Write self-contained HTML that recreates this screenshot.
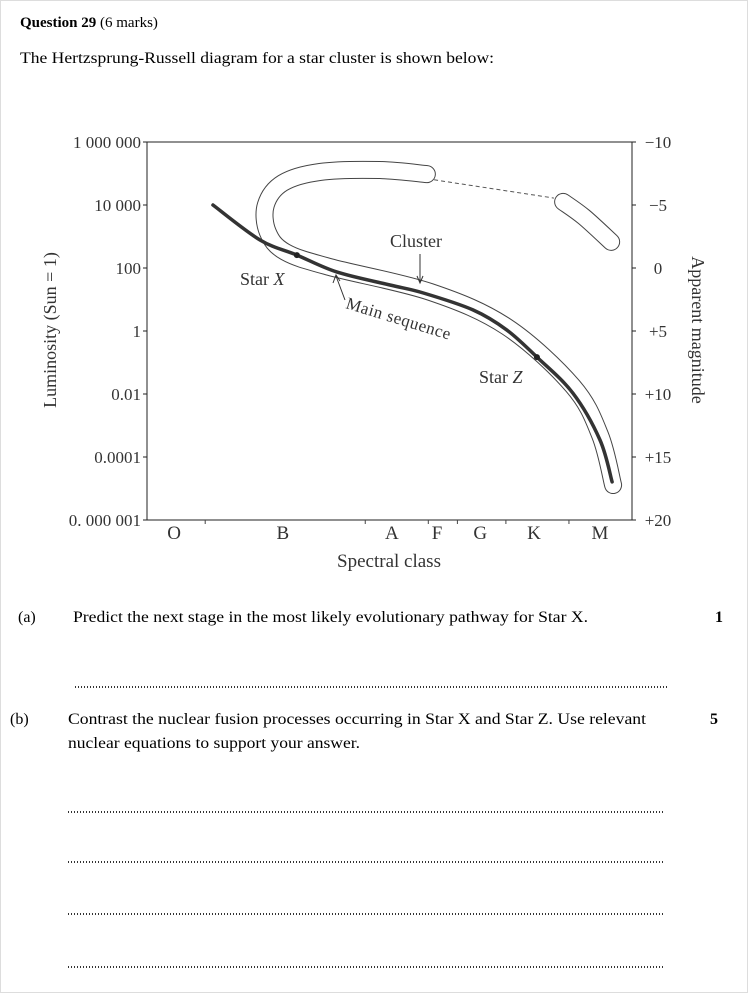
<!DOCTYPE html>
<html><head><meta charset="utf-8"><style>
html,body{margin:0;padding:0;background:#fff}
svg{display:block;font-family:"Liberation Serif",serif}
</style></head><body>
<svg id="page" width="748" height="993" viewBox="0 0 748 993" xmlns="http://www.w3.org/2000/svg">
<rect x="0.5" y="0.5" width="747" height="992" fill="#fff" stroke="#ddd"/>
<text x="20" y="27" font-size="15"><tspan font-weight="bold">Question 29</tspan> (6 marks)</text>
<text x="20" y="63" font-size="16" textLength="474" lengthAdjust="spacingAndGlyphs">The Hertzsprung-Russell diagram for a star cluster is shown below:</text>

<g id="chart"></g>

<text x="18" y="622" font-size="16">(a)</text>
<text x="73" y="622" font-size="16" textLength="515" lengthAdjust="spacingAndGlyphs">Predict the next stage in the most likely evolutionary pathway for Star X.</text>
<text x="715" y="622" font-size="16" font-weight="bold">1</text>
<line x1="75" y1="687" x2="668" y2="687" stroke="#333" stroke-width="2" stroke-dasharray="1 2"/>
<text x="10" y="724" font-size="16">(b)</text>
<text x="68" y="724" font-size="16" textLength="578" lengthAdjust="spacingAndGlyphs">Contrast the nuclear fusion processes occurring in Star X and Star Z. Use relevant</text>
<text x="68" y="748" font-size="16" textLength="292" lengthAdjust="spacingAndGlyphs">nuclear equations to support your answer.</text>
<text x="710" y="724" font-size="16" font-weight="bold">5</text>
<line x1="68" y1="812" x2="665" y2="812" stroke="#333" stroke-width="2" stroke-dasharray="1 2"/>
<line x1="68" y1="862" x2="665" y2="862" stroke="#333" stroke-width="2" stroke-dasharray="1 2"/>
<line x1="68" y1="914" x2="665" y2="914" stroke="#333" stroke-width="2" stroke-dasharray="1 2"/>
<line x1="68" y1="967" x2="665" y2="967" stroke="#333" stroke-width="2" stroke-dasharray="1 2"/>
</svg>
<script>
// ---- data ----
const lumTicks = [6, 4, 2, 0, -2, -4, -6];
const lumLabels = ["1 000 000", "10 000", "100", "1", "0.01", "0.0001", "0. 000 001"];
const magLabels = ["\u221210", "\u22125", "0", "+5", "+10", "+15", "+20"];
const spectralClasses = ["O", "B", "A", "F", "G", "K", "M"];
const spectralPos = [5.6, 28, 50.5, 59.8, 68.7, 79.8, 93.4];
const minorTicks = [12, 45, 58, 64, 74, 87];
const msX = [13.6, 23.3, 30.9, 39.2, 50.1, 56.9, 67.2, 74.2, 80.4, 87.8, 93.4, 95.9];
const msY = [4.0, 2.89, 2.41, 1.87, 1.46, 1.21, 0.67, 0.03, -0.83, -1.97, -3.46, -4.79];
const clusterX = [57.7, 48.0, 35.7, 28.0, 24.5, 24.9, 28.5, 37.7, 58.4, 74.2, 87.8, 93.4, 96.1];
const clusterY = [4.98, 5.11, 5.05, 4.70, 4.0, 3.14, 2.51, 2.03, 1.24, 0.13, -1.75, -3.30, -4.89];
const giantX = [85.8, 90.1, 95.7];
const giantY = [4.10, 3.62, 2.83];
const gapX = [59.2, 83.9];
const gapY = [4.80, 4.22];
const starX = [30.9, 80.4];
const starY = [2.41, -0.83];

// ---- scales ----
const L = 147, R = 632, T = 142, B = 520;
const sx = v => L + v / 100 * (R - L);
const sy = v => T + (6 - v) / 12 * (B - T);
const NS = "http://www.w3.org/2000/svg";
const g = document.getElementById('chart');
function mk(tag, attrs, parent) {
  const e = document.createElementNS(NS, tag);
  for (const k in attrs) e.setAttribute(k, attrs[k]);
  (parent || g).appendChild(e);
  return e;
}
function smooth(xs, ys) {
  const p = xs.map((x, i) => [sx(x), sy(ys[i])]);
  let d = `M${p[0][0]},${p[0][1]}`;
  for (let i = 0; i < p.length - 1; i++) {
    const p0 = p[i - 1] || p[i], p1 = p[i], p2 = p[i + 1], p3 = p[i + 2] || p2;
    const c1 = [p1[0] + (p2[0] - p0[0]) / 6, p1[1] + (p2[1] - p0[1]) / 6];
    const c2 = [p2[0] - (p3[0] - p1[0]) / 6, p2[1] - (p3[1] - p1[1]) / 6];
    d += ` C${c1[0]},${c1[1]} ${c2[0]},${c2[1]} ${p2[0]},${p2[1]}`;
  }
  return d;
}

const frame = mk('rect', {x: L, y: T, width: R - L, height: B - T, fill: 'none', stroke: '#222', 'stroke-width': 1});



lumTicks.forEach((v, i) => {
  const y = sy(v);
  const t1 = mk('line', {x1: L - 4, y1: y, x2: L, y2: y, stroke: '#222'});
  
  
  const t2 = mk('line', {x1: R, y1: y, x2: R + 4, y2: y, stroke: '#222'});
  
  
  const lb = mk('text', {x: L - 6, y: y + 6, 'font-size': 17, 'text-anchor': 'end', fill: '#333'});
  lb.textContent = lumLabels[i];
  
  
  const mb = mk('text', {x: R + 26, y: y + 6, 'font-size': 17, 'text-anchor': 'middle', fill: '#333'});
  mb.textContent = magLabels[i];
  
  
});
spectralClasses.forEach((c, i) => {
  const t = mk('text', {x: sx(spectralPos[i]), y: B + 19, 'font-size': 19, 'text-anchor': 'middle', fill: '#333'});
  t.textContent = c;
  
  
});
minorTicks.forEach(v => {
  const t = mk('line', {x1: sx(v), y1: B, x2: sx(v), y2: B + 4, stroke: '#444'});
  
  
});
const xt = mk('text', {x: 389, y: 567, 'font-size': 19, 'text-anchor': 'middle', fill: '#333'});
xt.textContent = 'Spectral class';


const yt = mk('text', {x: 0, y: 0, 'font-size': 18, 'text-anchor': 'middle', fill: '#333', transform: 'translate(56,330) rotate(-90)'});
yt.textContent = 'Luminosity (Sun = 1)';


const y2t = mk('text', {x: 0, y: 0, 'font-size': 18, 'text-anchor': 'middle', fill: '#333', transform: 'translate(692,330) rotate(90)'});
y2t.textContent = 'Apparent magnitude';



const cd = smooth(clusterX, clusterY);
const cb1 = mk('path', {d: cd, fill: 'none', stroke: '#444', 'stroke-width': 18, 'stroke-linecap': 'round'});


const cb2 = mk('path', {d: cd, fill: 'none', stroke: '#fff', 'stroke-width': 16, 'stroke-linecap': 'round'});


const gd = smooth(giantX, giantY);
const gb1 = mk('path', {d: gd, fill: 'none', stroke: '#444', 'stroke-width': 18, 'stroke-linecap': 'round'});


const gb2 = mk('path', {d: gd, fill: 'none', stroke: '#fff', 'stroke-width': 16, 'stroke-linecap': 'round'});


const gap = mk('line', {x1: sx(gapX[0]), y1: sy(gapY[0]), x2: sx(gapX[1]), y2: sy(gapY[1]), stroke: '#555', 'stroke-dasharray': '4 3'});



const ms = mk('path', {d: smooth(msX, msY), fill: 'none', stroke: '#333', 'stroke-width': 3.5, 'stroke-linecap': 'round'});



starX.forEach((v, i) => {
  const c = mk('circle', {cx: sx(v), cy: sy(starY[i]), r: 3, fill: '#222'});
  
  
});
const lx = mk('text', {x: 240, y: 285, 'font-size': 18, fill: '#333'});
lx.innerHTML = 'Star <tspan font-style="italic">X</tspan>';


const lz = mk('text', {x: 479, y: 383, 'font-size': 18, fill: '#333'});
lz.innerHTML = 'Star <tspan font-style="italic">Z</tspan>';


const cl = mk('text', {x: 390, y: 247, 'font-size': 18, fill: '#333'});
cl.textContent = 'Cluster';


const ca = mk('path', {d: 'M420,254 L420,282 M417,276 L420,283 L423,276', fill: 'none', stroke: '#333'});


const mlab = mk('text', {x: 0, y: 0, 'font-size': 17, fill: '#333', 'letter-spacing': '0.5', transform: 'translate(345,308) rotate(17)'});
mlab.textContent = 'Main sequence';


const ma = mk('path', {d: 'M345,300 L336,276 M333,283 L336,275 L340,281', fill: 'none', stroke: '#333'});


</script>
</body></html>
